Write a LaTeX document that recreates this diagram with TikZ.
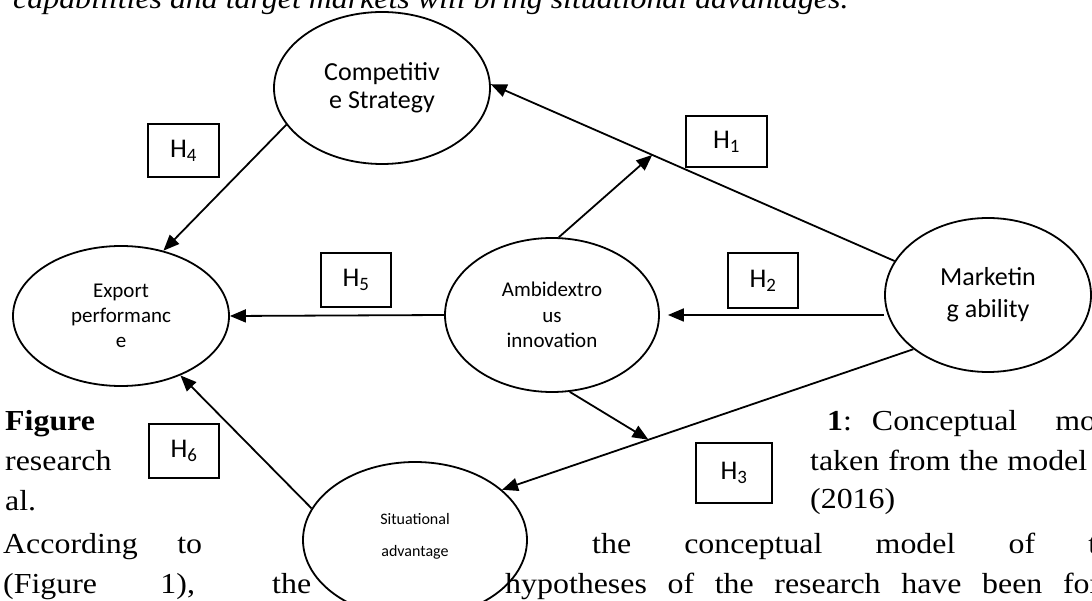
\documentclass[tikz,border=0pt]{standalone}
\usepackage{fontspec}
\setmainfont{Liberation Serif}[FakeStretch=1.1,
  UprightFont=Liberation Serif,
  ItalicFont=Liberation Serif Italic,
  BoldFont=Liberation Serif Bold]
\newfontfamily\calib{Carlito}
\usetikzlibrary{arrows.meta,shapes.geometric,calc}
\begin{document}
\begin{tikzpicture}[x=1pt,y=-1pt,
  ell/.style={draw,ellipse,line width=1.8pt,inner sep=0pt,align=center},
  hbox/.style={draw,line width=1.8pt,inner sep=0pt,font=\calib\fontsize{27}{30}\selectfont},
  arr/.style={line width=1.8pt,-{Triangle[length=16pt,width=13pt]}},
  body/.style={anchor=base west,inner sep=0pt,font=\fontsize{29}{34}\selectfont}]
\clip (0,0) rectangle (1092,601);
% background text
\node[body] (t0) at (13,9) {\itshape capabilities and target markets will bring situational advantages.};
\node[body] (t1) at (5,430) {\textbf{Figure}};
\node[body] (t2) at (5,470) {research};
\node[body] (t3) at (5,510) {al.};
\node[body] (t4) at (3,553) {\makebox[199pt][s]{According to}};
\node[body] (t5) at (3,593) {\makebox[308pt][s]{(Figure 1), the}};
\node[body] (t6) at (827,430) {\textbf{1}:\hspace{20pt}Conceptual\hspace{38pt}mo};
\node[body] (t7) at (810,470) {\makebox[277pt][s]{taken from the model}};
\node[body] (t8) at (810,508) {(2016)};
\node[body] (t9) at (592,553) {\makebox[505pt][s]{the conceptual model of t}};
\node[body] (t10) at (505,593) {\makebox[595pt][s]{hypotheses of the research have been for}};
% ellipses
\node[ell,minimum width=216pt,minimum height=152pt,font=\calib\fontsize{26}{28}\selectfont] (comp) at (382,88) {Competitiv\\e Strategy};
\node[ell,minimum width=216pt,minimum height=140pt,font=\calib\fontsize{21}{25}\selectfont] (exp) at (121,316) {Export\\performanc\\e};
\node[ell,minimum width=214pt,minimum height=154pt,font=\calib\fontsize{21}{25.5}\selectfont] (amb) at (552,315) {Ambidextro\\us\\innovation};
\node[ell,minimum width=206pt,minimum height=154pt,font=\calib\fontsize{26}{32}\selectfont] (mkt) at (988,295) {Marketin\\g ability};
\node[ell,minimum width=224pt,minimum height=156pt] (sit) at (415,540) {};
\node[align=center,inner sep=0pt,font=\calib\fontsize{16}{32}\selectfont] (sitlabel) at (415,536) {Situational\\advantage};
% hypothesis boxes
\node[hbox,minimum width=81pt,minimum height=51pt] (h1) at (726.5,141.5) {H\textsubscript{1}};
\node[hbox,minimum width=70pt,minimum height=55pt] (h2) at (763,280.5) {H\textsubscript{2}};
\node[hbox,minimum width=76pt,minimum height=60pt] (h3) at (734,473) {H\textsubscript{3}};
\node[hbox,minimum width=71pt,minimum height=53pt] (h4) at (183.5,150.5) {H\textsubscript{4}};
\node[hbox,minimum width=70pt,minimum height=54pt] (h5) at (356,280) {H\textsubscript{5}};
\node[hbox,minimum width=70pt,minimum height=54pt] (h6) at (184,451) {H\textsubscript{6}};
% connectors
\coordinate (p1) at ($(comp.2)!0.40!(mkt.160)$);
\coordinate (p3) at ($(mkt.216)!0.644!(sit.30)$);
\draw[arr] (mkt.160) -- (comp.2);
\draw[arr] (amb.85) -- (p1);
\draw[arr, shorten >=8pt] (amb.east -| mkt.west) -- (amb.east);
\draw[arr] (mkt.216) -- (sit.30);
\draw[arr] (amb.283) -- (p3);
\draw[arr] (comp.201) -- (exp.57);
\draw[arr] (amb.west) -- (exp.east);
\draw[arr] (sit.163) -- (exp.315);
\end{tikzpicture}
\end{document}
